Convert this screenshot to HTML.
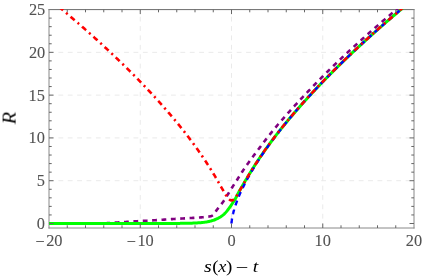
<!DOCTYPE html>
<html><head><title>R vs s(x)-t</title><meta charset="utf-8"><style>html,body{margin:0;padding:0;background:#fff}svg{display:block}</style></head><body><svg width="422" height="279" viewBox="0 0 422 279">
<rect width="422" height="279" fill="#fff"/>
<defs><clipPath id="c"><rect x="49.0" y="9.1" width="365.0" height="218.9"/></clipPath></defs>
<g stroke="#eaeaea" stroke-width="1" stroke-dasharray="4.85,4.535" fill="none"><line x1="140.25" y1="228.0" x2="140.25" y2="9.6"/><line x1="231.50" y1="228.0" x2="231.50" y2="9.6"/><line x1="322.75" y1="228.0" x2="322.75" y2="9.6"/><line x1="49.0" y1="180.71" x2="414.0" y2="180.71"/><line x1="49.0" y1="137.92" x2="414.0" y2="137.92"/><line x1="49.0" y1="95.13" x2="414.0" y2="95.13"/><line x1="49.0" y1="52.34" x2="414.0" y2="52.34"/></g>
<g stroke-width="1" fill="none" stroke-linecap="square"><line x1="49.0" y1="9.6" x2="414.0" y2="9.6" stroke="#6c6c6c"/><line x1="49.0" y1="228.0" x2="414.0" y2="228.0" stroke="#888"/><line x1="49.0" y1="9.6" x2="49.0" y2="228.0" stroke="#888"/><line x1="414.0" y1="9.6" x2="414.0" y2="228.0" stroke="#888"/></g>
<g clip-path="url(#c)" fill="none" stroke-width="3.1">
<path d="M95.90,223.67 L96.35,223.65 L96.79,223.64 L97.24,223.62 L97.69,223.60 L98.13,223.58 L98.58,223.57 L99.02,223.55 L99.47,223.53 L99.91,223.51 L100.36,223.49 L100.80,223.47 L101.25,223.45 L101.70,223.43 L102.14,223.41 L102.59,223.38 L103.03,223.36 L103.48,223.34 L103.92,223.32 L104.37,223.29 L104.82,223.27 L105.26,223.25 L105.71,223.23 L106.15,223.20 L106.60,223.18 L107.04,223.15 L107.49,223.13 L107.94,223.11 L108.38,223.08 L108.83,223.05 L109.27,223.03 L109.72,223.00 L110.16,222.97 L110.61,222.94 L111.06,222.91 L111.50,222.88 L111.95,222.85 L112.39,222.82 L112.84,222.79 L113.28,222.76 L113.73,222.73 L114.17,222.70 L114.62,222.67 L115.07,222.64 L115.51,222.61 L115.96,222.58 L116.40,222.55 L116.85,222.52 L117.29,222.50 L117.74,222.47 L118.19,222.44 L118.63,222.41 L119.08,222.38 L119.52,222.36 L119.97,222.33 L120.41,222.30 L120.86,222.28 L121.31,222.25 L121.75,222.22 L122.20,222.19 L122.64,222.17 L123.09,222.14 L123.53,222.11 L123.98,222.08 L124.43,222.05 L124.87,222.03 L125.32,222.00 L125.76,221.97 L126.21,221.94 L126.65,221.91 L127.10,221.88 L127.54,221.85 L127.99,221.82 L128.44,221.79 L128.88,221.75 L129.33,221.72 L129.77,221.69 L130.22,221.66 L130.66,221.62 L131.11,221.59 L131.56,221.56 L132.00,221.52 L132.45,221.49 L132.89,221.46 L133.34,221.43 L133.78,221.40 L134.23,221.37 L134.68,221.34 L135.12,221.31 L135.57,221.28 L136.01,221.26 L136.46,221.23 L136.90,221.21 L137.35,221.18 L137.80,221.16 L138.24,221.13 L138.69,221.11 L139.13,221.09 L139.58,221.07 L140.02,221.04 L140.47,221.02 L140.91,221.00 L141.36,220.98 L141.81,220.96 L142.25,220.94 L142.70,220.91 L143.14,220.89 L143.59,220.87 L144.03,220.85 L144.48,220.82 L144.93,220.80 L145.37,220.77 L145.82,220.75 L146.26,220.72 L146.71,220.70 L147.15,220.68 L147.60,220.65 L148.05,220.63 L148.49,220.60 L148.94,220.57 L149.38,220.55 L149.83,220.52 L150.27,220.50 L150.72,220.47 L151.17,220.45 L151.61,220.42 L152.06,220.39 L152.50,220.37 L152.95,220.34 L153.39,220.31 L153.84,220.29 L154.28,220.26 L154.73,220.23 L155.18,220.21 L155.62,220.18 L156.07,220.15 L156.51,220.12 L156.96,220.09 L157.40,220.06 L157.85,220.03 L158.30,220.00 L158.74,219.98 L159.19,219.95 L159.63,219.92 L160.08,219.89 L160.52,219.86 L160.97,219.83 L161.42,219.80 L161.86,219.77 L162.31,219.74 L162.75,219.71 L163.20,219.68 L163.64,219.65 L164.09,219.62 L164.54,219.60 L164.98,219.57 L165.43,219.54 L165.87,219.51 L166.32,219.48 L166.76,219.45 L167.21,219.43 L167.65,219.40 L168.10,219.37 L168.55,219.34 L168.99,219.31 L169.44,219.28 L169.88,219.26 L170.33,219.23 L170.77,219.20 L171.22,219.17 L171.67,219.14 L172.11,219.12 L172.56,219.09 L173.00,219.06 L173.45,219.03 L173.89,219.01 L174.34,218.98 L174.79,218.95 L175.23,218.92 L175.68,218.90 L176.12,218.87 L176.57,218.84 L177.01,218.82 L177.46,218.79 L177.91,218.76 L178.35,218.74 L178.80,218.71 L179.24,218.68 L179.69,218.66 L180.13,218.63 L180.58,218.60 L181.02,218.58 L181.47,218.55 L181.92,218.52 L182.36,218.50 L182.81,218.47 L183.25,218.44 L183.70,218.42 L184.14,218.39 L184.59,218.37 L185.04,218.34 L185.48,218.32 L185.93,218.29 L186.37,218.27 L186.82,218.24 L187.26,218.22 L187.71,218.19 L188.16,218.17 L188.60,218.14 L189.05,218.12 L189.49,218.09 L189.94,218.07 L190.38,218.04 L190.83,218.01 L191.28,217.99 L191.72,217.96 L192.17,217.94 L192.61,217.91 L193.06,217.88 L193.50,217.86 L193.95,217.83 L194.39,217.80 L194.84,217.78 L195.29,217.75 L195.73,217.72 L196.18,217.69 L196.62,217.66 L197.07,217.64 L197.51,217.61 L197.96,217.58 L198.41,217.55 L198.85,217.52 L199.30,217.49 L199.74,217.46 L200.19,217.43 L200.63,217.40 L201.08,217.36 L201.53,217.33 L201.97,217.29 L202.42,217.26 L202.86,217.22 L203.31,217.18 L203.75,217.14 L204.20,217.10 L204.65,217.06 L205.09,217.02 L205.54,216.97 L205.98,216.93 L206.43,216.88 L206.87,216.82 L207.32,216.77 L207.76,216.72 L208.21,216.66 L208.66,216.60 L209.10,216.53 L209.55,216.46 L209.99,216.37 L210.44,216.28 L210.88,216.16 L211.33,216.02 L211.78,215.80 L212.22,215.54 L212.67,215.22 L213.11,214.88 L213.56,214.49 L214.00,214.00 L214.45,213.43 L214.90,212.79 L215.34,212.12 L215.79,211.43 L216.23,210.75 L216.68,210.11 L217.12,209.51 L217.57,208.93 L218.02,208.36 L218.46,207.80 L218.91,207.25 L219.35,206.69 L219.80,206.14 L220.24,205.58 L220.69,205.02 L221.13,204.45 L221.58,203.88 L222.03,203.29 L222.47,202.69 L222.92,202.07 L223.36,201.43 L223.81,200.78 L224.25,200.11 L224.70,199.42 L225.15,198.72 L225.59,198.02 L226.04,197.30 L226.48,196.59 L226.93,195.87 L227.37,195.16 L227.82,194.45 L228.27,193.74 L228.71,193.03 L229.16,192.31 L229.60,191.59 L230.05,190.87 L230.49,190.15 L230.94,189.42 L231.39,188.70 L231.83,187.98 L232.28,187.27 L232.72,186.56 L233.17,185.86 L233.61,185.16 L234.06,184.47 L234.50,183.77 L234.95,183.08 L235.40,182.39 L235.84,181.71 L236.29,181.02 L236.73,180.34 L237.18,179.66 L237.62,178.99 L238.07,178.31 L238.50,177.59 L238.93,176.88 L239.36,176.19 L239.79,175.50 L240.22,174.83 L240.65,174.16 L241.08,173.51 L241.51,172.86 L241.94,172.21 L242.36,171.56 L242.79,170.92 L243.22,170.29 L243.65,169.65 L244.08,169.02 L244.51,168.39 L244.94,167.77 L245.37,167.15 L245.80,166.54 L246.23,165.92 L246.66,165.31 L247.09,164.71 L247.52,164.10 L247.95,163.50 L248.38,162.89 L248.81,162.29 L249.24,161.70 L249.67,161.10 L250.10,160.51 L250.53,159.91 L250.95,159.32 L251.38,158.74 L251.81,158.15 L252.24,157.57 L252.67,156.98 L253.10,156.40 L253.53,155.82 L253.96,155.25 L254.39,154.67 L254.82,154.10 L255.25,153.53 L255.68,152.97 L256.11,152.41 L256.54,151.84 L256.97,151.28 L257.40,150.72 L257.83,150.16 L258.26,149.59 L258.69,149.03 L259.12,148.46 L259.54,147.89 L259.97,147.31 L260.40,146.74 L260.83,146.16 L261.26,145.59 L261.69,145.01 L262.12,144.44 L262.55,143.87 L262.98,143.29 L263.41,142.72 L263.84,142.16 L264.27,141.59 L264.70,141.03 L265.13,140.47 L265.56,139.92 L265.99,139.36 L266.42,138.81 L266.85,138.26 L267.28,137.72 L267.70,137.17 L268.13,136.63 L268.56,136.09 L268.99,135.55 L269.42,135.01 L269.85,134.47 L270.28,133.93 L270.71,133.40 L271.14,132.86 L271.57,132.33 L272.00,131.80 L272.43,131.27 L272.86,130.74 L273.29,130.21 L273.72,129.68 L274.15,129.16 L274.58,128.63 L275.01,128.11 L275.44,127.59 L275.87,127.07 L276.29,126.55 L276.72,126.04 L277.15,125.53 L277.58,125.02 L278.01,124.51 L278.44,124.00 L278.87,123.50 L279.30,123.00 L279.73,122.50 L280.16,122.00 L280.59,121.50 L281.02,121.00 L281.45,120.51 L281.88,120.02 L282.31,119.52 L282.74,119.03 L283.17,118.54 L283.60,118.06 L284.03,117.57 L284.46,117.08 L284.88,116.60 L285.31,116.11 L285.74,115.63 L286.17,115.14 L286.60,114.66 L287.03,114.18 L287.46,113.70 L287.89,113.22 L288.32,112.74 L288.75,112.27 L289.18,111.79 L289.61,111.32 L290.04,110.84 L290.47,110.37 L290.90,109.90 L291.33,109.43 L291.76,108.96 L292.19,108.49 L292.62,108.02 L293.05,107.55 L293.47,107.08 L293.90,106.61 L294.33,106.14 L294.76,105.68 L295.19,105.21 L295.62,104.74 L296.05,104.28 L296.48,103.81 L296.91,103.34 L297.34,102.88 L297.77,102.42 L298.20,101.95 L298.63,101.49 L299.06,101.03 L299.49,100.56 L299.92,100.10 L300.35,99.64 L300.78,99.18 L301.21,98.72 L301.63,98.26 L302.06,97.81 L302.49,97.35 L302.92,96.89 L303.35,96.43 L303.78,95.98 L304.21,95.52 L304.64,95.07 L305.07,94.61 L305.50,94.16 L305.93,93.70 L306.36,93.25 L306.79,92.80 L307.22,92.35 L307.65,91.89 L308.08,91.44 L308.51,90.99 L308.94,90.54 L309.37,90.09 L309.80,89.65 L310.22,89.20 L310.65,88.75 L311.08,88.30 L311.51,87.86 L311.94,87.41 L312.37,86.97 L312.80,86.52 L313.23,86.08 L313.66,85.64 L314.09,85.20 L314.52,84.75 L314.95,84.31 L315.38,83.87 L315.81,83.43 L316.24,83.00 L316.67,82.56 L317.10,82.12 L317.53,81.68 L317.96,81.25 L318.39,80.81 L318.81,80.38 L319.24,79.94 L319.67,79.51 L320.10,79.07 L320.53,78.64 L320.96,78.21 L321.39,77.78 L321.82,77.34 L322.25,76.91 L322.68,76.48 L323.11,76.05 L323.54,75.62 L323.97,75.19 L324.40,74.76 L324.83,74.33 L325.26,73.91 L325.69,73.48 L326.12,73.05 L326.55,72.62 L326.97,72.20 L327.40,71.77 L327.83,71.35 L328.26,70.92 L328.69,70.50 L329.12,70.07 L329.55,69.65 L329.98,69.23 L330.41,68.81 L330.84,68.39 L331.27,67.97 L331.70,67.55 L332.13,67.13 L332.56,66.71 L332.99,66.30 L333.42,65.88 L333.85,65.46 L334.28,65.05 L334.71,64.63 L335.14,64.22 L335.56,63.81 L335.99,63.39 L336.42,62.98 L336.85,62.57 L337.28,62.16 L337.71,61.75 L338.14,61.34 L338.57,60.93 L339.00,60.52 L339.43,60.11 L339.86,59.70 L340.29,59.30 L340.72,58.89 L341.15,58.48 L341.58,58.08 L342.01,57.67 L342.44,57.27 L342.87,56.86 L343.30,56.46 L343.73,56.06 L344.15,55.65 L344.58,55.25 L345.01,54.85 L345.44,54.45 L345.87,54.05 L346.30,53.65 L346.73,53.25 L347.16,52.85 L347.59,52.45 L348.02,52.06 L348.45,51.66 L348.88,51.26 L349.31,50.87 L349.74,50.47 L350.17,50.08 L350.60,49.68 L351.03,49.29 L351.46,48.89 L351.89,48.50 L352.31,48.11 L352.74,47.72 L353.17,47.33 L353.60,46.94 L354.03,46.54 L354.46,46.16 L354.89,45.77 L355.32,45.38 L355.75,44.99 L356.18,44.60 L356.61,44.21 L357.04,43.82 L357.47,43.44 L357.90,43.05 L358.33,42.66 L358.76,42.27 L359.19,41.88 L359.62,41.50 L360.05,41.11 L360.48,40.72 L360.90,40.34 L361.33,39.95 L361.76,39.56 L362.19,39.18 L362.62,38.79 L363.05,38.40 L363.48,38.02 L363.91,37.63 L364.34,37.25 L364.77,36.87 L365.20,36.48 L365.63,36.10 L366.06,35.72 L366.49,35.33 L366.92,34.95 L367.35,34.57 L367.78,34.19 L368.21,33.81 L368.64,33.43 L369.07,33.05 L369.49,32.67 L369.92,32.29 L370.35,31.91 L370.78,31.53 L371.21,31.15 L371.64,30.78 L372.07,30.40 L372.50,30.02 L372.93,29.65 L373.36,29.27 L373.79,28.90 L374.22,28.52 L374.65,28.15 L375.08,27.77 L375.51,27.40 L375.94,27.03 L376.37,26.65 L376.80,26.28 L377.23,25.91 L377.66,25.54 L378.08,25.16 L378.51,24.79 L378.94,24.42 L379.37,24.05 L379.80,23.68 L380.23,23.31 L380.66,22.94 L381.09,22.57 L381.52,22.21 L381.95,21.84 L382.38,21.47 L382.81,21.10 L383.24,20.73 L383.67,20.37 L384.10,20.00 L384.53,19.64 L384.96,19.27 L385.39,18.90 L385.82,18.54 L386.24,18.17 L386.67,17.81 L387.10,17.45 L387.53,17.08 L387.96,16.72 L388.39,16.36 L388.82,15.99 L389.25,15.63 L389.68,15.27 L390.11,14.91 L390.54,14.55 L390.97,14.18 L391.40,13.82 L391.83,13.46 L392.26,13.10 L392.69,12.74 L393.12,12.38 L393.55,12.03 L393.98,11.67 L394.41,11.31 L394.83,10.95 L395.26,10.59 L395.69,10.23 L396.12,9.88 L396.55,9.52 L396.98,9.16 L397.41,8.81 L397.84,8.45 L398.27,8.10 L398.70,7.74 L399.13,7.39 L399.56,7.03 L399.99,6.68 L400.42,6.32 L400.85,5.97 L401.28,5.62 L401.71,5.26 L402.14,4.91 L402.57,4.56 L403.00,4.21 L403.42,3.85 L403.85,3.50 L404.28,3.15 L404.71,2.80 L405.14,2.45 L405.57,2.10 L406.00,1.75 L406.43,1.40 L406.86,1.05 L407.29,0.70 L407.72,0.35 L408.15,0.00 L408.58,-0.34 L409.01,-0.69 L409.44,-1.04" stroke="#800080" stroke-width="2.6" stroke-dasharray="4.8,4.58" stroke-dashoffset="-0.07"/>
<path d="M49.00,223.50 L49.63,223.50 L50.25,223.50 L50.88,223.50 L51.50,223.50 L52.13,223.50 L52.75,223.50 L53.38,223.50 L54.01,223.50 L54.63,223.50 L55.26,223.50 L55.88,223.50 L56.51,223.50 L57.13,223.50 L57.76,223.50 L58.38,223.50 L59.01,223.50 L59.64,223.50 L60.26,223.50 L60.89,223.50 L61.51,223.50 L62.14,223.50 L62.76,223.50 L63.39,223.50 L64.02,223.50 L64.64,223.50 L65.27,223.50 L65.89,223.50 L66.52,223.50 L67.14,223.50 L67.77,223.50 L68.39,223.50 L69.02,223.50 L69.65,223.50 L70.27,223.50 L70.90,223.50 L71.52,223.50 L72.15,223.50 L72.77,223.50 L73.40,223.50 L74.03,223.50 L74.65,223.50 L75.28,223.50 L75.90,223.50 L76.53,223.50 L77.15,223.50 L77.78,223.50 L78.40,223.50 L79.03,223.50 L79.66,223.50 L80.28,223.50 L80.91,223.50 L81.53,223.50 L82.16,223.50 L82.78,223.50 L83.41,223.50 L84.04,223.50 L84.66,223.50 L85.29,223.50 L85.91,223.50 L86.54,223.50 L87.16,223.50 L87.79,223.50 L88.41,223.50 L89.04,223.50 L89.67,223.50 L90.29,223.50 L90.92,223.50 L91.54,223.50 L92.17,223.50 L92.79,223.50 L93.42,223.50 L94.05,223.50 L94.67,223.50 L95.30,223.50 L95.92,223.50 L96.55,223.50 L97.17,223.50 L97.80,223.50 L98.42,223.50 L99.05,223.50 L99.68,223.50 L100.30,223.50 L100.93,223.50 L101.55,223.50 L102.18,223.50 L102.80,223.50 L103.43,223.50 L104.06,223.50 L104.68,223.50 L105.31,223.50 L105.93,223.50 L106.56,223.50 L107.18,223.50 L107.81,223.50 L108.43,223.50 L109.06,223.50 L109.69,223.50 L110.31,223.49 L110.94,223.49 L111.56,223.49 L112.19,223.49 L112.81,223.49 L113.44,223.49 L114.07,223.49 L114.69,223.49 L115.32,223.49 L115.94,223.49 L116.57,223.49 L117.19,223.49 L117.82,223.49 L118.44,223.49 L119.07,223.49 L119.70,223.49 L120.32,223.49 L120.95,223.49 L121.57,223.49 L122.20,223.49 L122.82,223.49 L123.45,223.49 L124.08,223.49 L124.70,223.49 L125.33,223.49 L125.95,223.49 L126.58,223.49 L127.20,223.49 L127.83,223.49 L128.45,223.49 L129.08,223.49 L129.71,223.49 L130.33,223.49 L130.96,223.49 L131.58,223.49 L132.21,223.49 L132.83,223.49 L133.46,223.49 L134.09,223.49 L134.71,223.49 L135.34,223.49 L135.96,223.49 L136.59,223.49 L137.21,223.49 L137.84,223.49 L138.46,223.49 L139.09,223.49 L139.72,223.49 L140.34,223.49 L140.97,223.49 L141.59,223.49 L142.22,223.49 L142.84,223.49 L143.47,223.49 L144.10,223.49 L144.72,223.49 L145.35,223.48 L145.97,223.48 L146.60,223.48 L147.22,223.48 L147.85,223.48 L148.47,223.48 L149.10,223.48 L149.73,223.48 L150.35,223.48 L150.98,223.48 L151.60,223.48 L152.23,223.48 L152.85,223.48 L153.48,223.48 L154.11,223.48 L154.73,223.48 L155.36,223.48 L155.98,223.48 L156.61,223.48 L157.23,223.48 L157.86,223.48 L158.48,223.48 L159.11,223.48 L159.74,223.48 L160.36,223.48 L160.99,223.48 L161.61,223.48 L162.24,223.48 L162.86,223.48 L163.49,223.48 L164.12,223.48 L164.74,223.48 L165.37,223.48 L165.99,223.48 L166.62,223.47 L167.24,223.47 L167.87,223.47 L168.49,223.47 L169.12,223.47 L169.75,223.47 L170.37,223.47 L171.00,223.46 L171.62,223.46 L172.25,223.46 L172.87,223.45 L173.50,223.45 L174.13,223.44 L174.75,223.44 L175.38,223.43 L176.00,223.42 L176.63,223.42 L177.25,223.41 L177.88,223.40 L178.50,223.39 L179.13,223.39 L179.76,223.38 L180.38,223.37 L181.01,223.36 L181.63,223.35 L182.26,223.34 L182.88,223.33 L183.51,223.32 L184.14,223.31 L184.76,223.30 L185.39,223.29 L186.01,223.28 L186.64,223.27 L187.26,223.26 L187.89,223.25 L188.51,223.23 L189.14,223.22 L189.77,223.20 L190.39,223.19 L191.02,223.17 L191.64,223.15 L192.27,223.13 L192.89,223.11 L193.52,223.09 L194.15,223.06 L194.77,223.04 L195.40,223.01 L196.02,222.98 L196.65,222.95 L197.27,222.91 L197.90,222.87 L198.52,222.83 L199.15,222.79 L199.78,222.74 L200.40,222.69 L201.03,222.64 L201.65,222.58 L202.28,222.52 L202.90,222.45 L203.53,222.38 L204.16,222.30 L204.78,222.22 L205.41,222.13 L206.03,222.04 L206.66,221.94 L207.28,221.84 L207.91,221.72 L208.53,221.59 L209.16,221.45 L209.79,221.30 L210.41,221.14 L211.04,220.98 L211.66,220.80 L212.29,220.62 L212.91,220.42 L213.54,220.22 L214.17,220.00 L214.79,219.76 L215.42,219.51 L216.04,219.25 L216.67,218.96 L217.29,218.67 L217.92,218.36 L218.54,218.03 L219.17,217.69 L219.80,217.32 L220.42,216.93 L221.05,216.51 L221.67,216.07 L222.30,215.60 L222.92,215.11 L223.55,214.59 L224.18,214.04 L224.80,213.47 L225.43,212.84 L226.05,212.14 L226.68,211.39 L227.30,210.60 L227.93,209.78 L228.55,208.94 L229.18,208.09 L229.81,207.24 L230.43,206.35 L231.06,205.43 L231.68,204.48 L232.31,203.52 L232.93,202.56 L233.56,201.59 L234.19,200.61 L234.81,199.61 L235.44,198.59 L236.06,197.57 L236.50,196.66 L236.93,195.75 L237.37,194.88 L237.80,194.02 L238.24,193.18 L238.67,192.36 L239.10,191.56 L239.54,190.76 L239.97,189.98 L240.41,189.20 L240.84,188.44 L241.28,187.68 L241.71,186.94 L242.15,186.21 L242.58,185.48 L243.01,184.76 L243.45,184.03 L243.88,183.31 L244.32,182.58 L244.75,181.84 L245.19,181.10 L245.62,180.36 L246.06,179.63 L246.49,178.90 L246.93,178.18 L247.36,177.45 L247.79,176.72 L248.23,176.00 L248.66,175.27 L249.10,174.54 L249.53,173.82 L249.97,173.10 L250.40,172.39 L250.84,171.67 L251.27,170.97 L251.71,170.26 L252.14,169.56 L252.57,168.86 L253.01,168.17 L253.44,167.48 L253.88,166.79 L254.31,166.10 L254.75,165.42 L255.18,164.74 L255.62,164.07 L256.05,163.40 L256.49,162.73 L256.92,162.06 L257.35,161.40 L257.79,160.74 L258.22,160.09 L258.66,159.43 L259.09,158.78 L259.53,158.14 L259.96,157.49 L260.40,156.85 L260.83,156.21 L261.26,155.57 L261.70,154.94 L262.13,154.31 L262.57,153.68 L263.00,153.05 L263.44,152.43 L263.87,151.81 L264.31,151.19 L264.74,150.57 L265.18,149.95 L265.61,149.34 L266.04,148.73 L266.48,148.12 L266.91,147.52 L267.35,146.91 L267.78,146.31 L268.22,145.71 L268.65,145.12 L269.09,144.52 L269.52,143.93 L269.96,143.34 L270.39,142.75 L270.82,142.17 L271.26,141.58 L271.69,141.00 L272.13,140.42 L272.56,139.84 L273.00,139.26 L273.43,138.69 L273.87,138.12 L274.30,137.55 L274.74,136.98 L275.17,136.41 L275.60,135.84 L276.04,135.28 L276.47,134.71 L276.91,134.15 L277.34,133.59 L277.78,133.04 L278.21,132.48 L278.65,131.93 L279.08,131.37 L279.51,130.82 L279.95,130.27 L280.38,129.73 L280.82,129.18 L281.25,128.64 L281.69,128.09 L282.12,127.55 L282.56,127.01 L282.99,126.47 L283.43,125.94 L283.86,125.40 L284.29,124.87 L284.73,124.33 L285.16,123.80 L285.60,123.27 L286.03,122.74 L286.47,122.22 L286.90,121.69 L287.34,121.17 L287.77,120.64 L288.21,120.12 L288.64,119.60 L289.07,119.08 L289.51,118.56 L289.94,118.05 L290.38,117.53 L290.81,117.02 L291.25,116.50 L291.68,115.99 L292.12,115.48 L292.55,114.97 L292.99,114.46 L293.42,113.95 L293.85,113.45 L294.29,112.94 L294.72,112.44 L295.16,111.93 L295.59,111.43 L296.03,110.93 L296.46,110.43 L296.90,109.93 L297.33,109.43 L297.76,108.94 L298.20,108.44 L298.63,107.94 L299.07,107.45 L299.50,106.96 L299.94,106.46 L300.37,105.97 L300.81,105.48 L301.24,104.99 L301.68,104.50 L302.11,104.02 L302.54,103.53 L302.98,103.04 L303.41,102.56 L303.85,102.07 L304.28,101.59 L304.72,101.11 L305.15,100.62 L305.59,100.14 L306.02,99.66 L306.46,99.18 L306.89,98.71 L307.32,98.23 L307.76,97.75 L308.19,97.28 L308.63,96.80 L309.06,96.33 L309.50,95.85 L309.93,95.38 L310.37,94.91 L310.80,94.44 L311.24,93.97 L311.67,93.50 L312.10,93.03 L312.54,92.57 L312.97,92.10 L313.41,91.64 L313.84,91.17 L314.28,90.71 L314.71,90.24 L315.15,89.78 L315.58,89.32 L316.01,88.86 L316.45,88.40 L316.88,87.94 L317.32,87.48 L317.75,87.03 L318.19,86.57 L318.62,86.11 L319.06,85.66 L319.49,85.20 L319.93,84.75 L320.36,84.30 L320.79,83.84 L321.23,83.39 L321.66,82.94 L322.10,82.49 L322.53,82.04 L322.97,81.59 L323.40,81.15 L323.84,80.70 L324.27,80.25 L324.71,79.81 L325.14,79.36 L325.57,78.92 L326.01,78.47 L326.44,78.03 L326.88,77.59 L327.31,77.14 L327.75,76.70 L328.18,76.26 L328.62,75.82 L329.05,75.38 L329.49,74.94 L329.92,74.51 L330.35,74.07 L330.79,73.63 L331.22,73.20 L331.66,72.76 L332.09,72.33 L332.53,71.89 L332.96,71.46 L333.40,71.03 L333.83,70.59 L334.26,70.16 L334.70,69.73 L335.13,69.30 L335.57,68.87 L336.00,68.44 L336.44,68.01 L336.87,67.58 L337.31,67.16 L337.74,66.73 L338.18,66.30 L338.61,65.88 L339.04,65.45 L339.48,65.03 L339.91,64.60 L340.35,64.18 L340.78,63.75 L341.22,63.33 L341.65,62.91 L342.09,62.49 L342.52,62.07 L342.96,61.65 L343.39,61.23 L343.82,60.81 L344.26,60.39 L344.69,59.97 L345.13,59.55 L345.56,59.14 L346.00,58.72 L346.43,58.30 L346.87,57.89 L347.30,57.47 L347.74,57.06 L348.17,56.64 L348.60,56.23 L349.04,55.82 L349.47,55.41 L349.91,54.99 L350.34,54.58 L350.78,54.17 L351.21,53.76 L351.65,53.35 L352.08,52.94 L352.51,52.53 L352.95,52.12 L353.38,51.72 L353.82,51.31 L354.25,50.90 L354.69,50.49 L355.12,50.09 L355.56,49.68 L355.99,49.28 L356.43,48.87 L356.86,48.47 L357.29,48.06 L357.73,47.66 L358.16,47.26 L358.60,46.86 L359.03,46.45 L359.47,46.05 L359.90,45.65 L360.34,45.25 L360.77,44.85 L361.21,44.45 L361.64,44.05 L362.07,43.65 L362.51,43.25 L362.94,42.86 L363.38,42.46 L363.81,42.06 L364.25,41.66 L364.68,41.27 L365.12,40.87 L365.55,40.48 L365.99,40.08 L366.42,39.69 L366.85,39.29 L367.29,38.90 L367.72,38.51 L368.16,38.11 L368.59,37.72 L369.03,37.33 L369.46,36.94 L369.90,36.55 L370.33,36.15 L370.76,35.76 L371.20,35.37 L371.63,34.98 L372.07,34.59 L372.50,34.21 L372.94,33.82 L373.37,33.43 L373.81,33.04 L374.24,32.65 L374.68,32.27 L375.11,31.88 L375.54,31.50 L375.98,31.11 L376.41,30.72 L376.85,30.34 L377.28,29.95 L377.72,29.57 L378.15,29.19 L378.59,28.80 L379.02,28.42 L379.46,28.04 L379.89,27.66 L380.32,27.27 L380.76,26.89 L381.19,26.51 L381.63,26.13 L382.06,25.75 L382.50,25.37 L382.93,24.99 L383.37,24.61 L383.80,24.23 L384.24,23.85 L384.67,23.47 L385.10,23.10 L385.54,22.72 L385.97,22.34 L386.41,21.96 L386.84,21.59 L387.28,21.21 L387.71,20.84 L388.15,20.46 L388.58,20.09 L389.01,19.71 L389.45,19.34 L389.88,18.96 L390.32,18.59 L390.75,18.21 L391.19,17.84 L391.62,17.47 L392.06,17.10 L392.49,16.72 L392.93,16.35 L393.36,15.98 L393.79,15.61 L394.23,15.24 L394.66,14.87 L395.10,14.50 L395.53,14.13 L395.97,13.76 L396.40,13.39 L396.84,13.02 L397.27,12.65 L397.71,12.28 L398.14,11.92 L398.57,11.55 L399.01,11.18 L399.44,10.82 L399.88,10.45 L400.31,10.08 L400.75,9.72 L401.18,9.35 L401.62,8.99 L402.05,8.62 L402.49,8.26 L402.92,7.89 L403.35,7.53 L403.79,7.16 L404.22,6.80 L404.66,6.44 L405.09,6.07 L405.53,5.71 L405.96,5.35 L406.40,4.99 L406.83,4.63 L407.26,4.26 L407.70,3.90 L408.13,3.54 L408.57,3.18 L409.00,2.82 L409.44,2.46" stroke="#00ff00" stroke-width="3.0"/>
<path d="M231.50,223.50 L231.50,223.48 L231.50,223.44 L231.50,223.40 L231.50,223.35 L231.50,223.30 L231.51,223.24 L231.51,223.18 L231.51,223.12 L231.52,223.06 L231.52,222.99 L231.52,222.92 L231.53,222.85 L231.53,222.77 L231.54,222.69 L231.54,222.62 L231.55,222.54 L231.56,222.45 L231.56,222.37 L231.57,222.28 L231.58,222.20 L231.59,222.11 L231.59,222.02 L231.60,221.93 L231.61,221.83 L231.62,221.74 L231.63,221.64 L231.64,221.54 L231.65,221.45 L231.66,221.35 L231.67,221.25 L231.69,221.14 L231.70,221.04 L231.71,220.93 L231.72,220.83 L231.74,220.72 L231.75,220.61 L231.76,220.51 L231.78,220.40 L231.79,220.28 L231.81,220.17 L231.82,220.06 L231.84,219.95 L231.86,219.83 L231.87,219.71 L231.89,219.60 L231.91,219.48 L231.93,219.36 L231.95,219.24 L231.96,219.12 L231.98,219.00 L232.00,218.88 L232.02,218.76 L232.04,218.63 L232.06,218.51 L232.08,218.38 L232.11,218.26 L232.13,218.13 L232.15,218.00 L232.17,217.88 L232.20,217.75 L232.22,217.62 L232.24,217.49 L232.27,217.36 L232.29,217.23 L232.32,217.09 L232.34,216.96 L232.37,216.83 L232.39,216.69 L232.42,216.56 L232.45,216.42 L232.47,216.29 L232.50,216.15 L232.53,216.01 L232.56,215.88 L232.59,215.74 L232.62,215.60 L232.65,215.46 L232.68,215.32 L232.71,215.18 L232.74,215.04 L232.77,214.90 L232.80,214.76 L232.83,214.62 L232.86,214.47 L232.90,214.33 L232.93,214.19 L232.96,214.04 L233.00,213.90 L233.03,213.75 L233.07,213.61 L233.10,213.46 L233.14,213.31 L233.17,213.17 L233.21,213.02 L233.24,212.87 L233.28,212.72 L233.32,212.58 L233.36,212.43 L233.39,212.28 L233.43,212.13 L233.47,211.98 L233.51,211.83 L233.55,211.68 L233.59,211.52 L233.63,211.37 L233.67,211.22 L233.71,211.07 L233.75,210.92 L233.80,210.76 L233.84,210.61 L233.88,210.45 L233.92,210.30 L233.97,210.15 L234.01,209.99 L234.06,209.84 L234.10,209.68 L234.15,209.52 L234.19,209.37 L234.24,209.21 L234.68,207.76 L235.12,206.37 L235.55,205.05 L235.99,203.78 L236.43,202.56 L236.87,201.37 L237.31,200.22 L237.75,199.10 L238.19,198.00 L238.63,196.93 L239.07,195.88 L239.51,194.86 L239.95,193.85 L240.38,192.86 L240.82,191.89 L241.26,190.93 L241.70,189.99 L242.14,189.06 L242.58,188.14 L243.02,187.24 L243.46,186.35 L243.90,185.47 L244.34,184.59 L244.78,183.73 L245.21,182.88 L245.65,182.04 L246.09,181.20 L246.53,180.38 L246.97,179.56 L247.41,178.75 L247.85,177.95 L248.29,177.15 L248.73,176.36 L249.17,175.58 L249.61,174.80 L250.05,174.03 L250.48,173.27 L250.92,172.51 L251.36,171.76 L251.80,171.01 L252.24,170.27 L252.68,169.54 L253.12,168.81 L253.56,168.08 L254.00,167.36 L254.44,166.64 L254.88,165.93 L255.31,165.22 L255.75,164.52 L256.19,163.82 L256.63,163.12 L257.07,162.43 L257.51,161.75 L257.95,161.06 L258.39,160.38 L258.83,159.71 L259.27,159.04 L259.71,158.37 L260.14,157.70 L260.58,157.04 L261.02,156.38 L261.46,155.72 L261.90,155.07 L262.34,154.42 L262.78,153.78 L263.22,153.13 L263.66,152.49 L264.10,151.86 L264.54,151.22 L264.97,150.59 L265.41,149.96 L265.85,149.33 L266.29,148.71 L266.73,148.09 L267.17,147.47 L267.61,146.85 L268.05,146.24 L268.49,145.63 L268.93,145.02 L269.37,144.41 L269.80,143.81 L270.24,143.21 L270.68,142.61 L271.12,142.01 L271.56,141.41 L272.00,140.82 L272.44,140.23 L272.88,139.64 L273.32,139.05 L273.76,138.47 L274.20,137.89 L274.63,137.30 L275.07,136.73 L275.51,136.15 L275.95,135.57 L276.39,135.00 L276.83,134.43 L277.27,133.86 L277.71,133.29 L278.15,132.72 L278.59,132.16 L279.03,131.60 L279.46,131.04 L279.90,130.48 L280.34,129.92 L280.78,129.36 L281.22,128.81 L281.66,128.26 L282.10,127.70 L282.54,127.16 L282.98,126.61 L283.42,126.06 L283.86,125.52 L284.29,124.97 L284.73,124.43 L285.17,123.89 L285.61,123.35 L286.05,122.81 L286.49,122.28 L286.93,121.74 L287.37,121.21 L287.81,120.68 L288.25,120.15 L288.69,119.62 L289.12,119.09 L289.56,118.56 L290.00,118.04 L290.44,117.51 L290.88,116.99 L291.32,116.47 L291.76,115.95 L292.20,115.43 L292.64,114.91 L293.08,114.39 L293.52,113.88 L293.95,113.36 L294.39,112.85 L294.83,112.34 L295.27,111.83 L295.71,111.32 L296.15,110.81 L296.59,110.30 L297.03,109.80 L297.47,109.29 L297.91,108.79 L298.35,108.28 L298.78,107.78 L299.22,107.28 L299.66,106.78 L300.10,106.28 L300.54,105.79 L300.98,105.29 L301.42,104.79 L301.86,104.30 L302.30,103.81 L302.74,103.31 L303.18,102.82 L303.61,102.33 L304.05,101.84 L304.49,101.35 L304.93,100.87 L305.37,100.38 L305.81,99.90 L306.25,99.41 L306.69,98.93 L307.13,98.44 L307.57,97.96 L308.01,97.48 L308.45,97.00 L308.88,96.52 L309.32,96.04 L309.76,95.57 L310.20,95.09 L310.64,94.61 L311.08,94.14 L311.52,93.67 L311.96,93.19 L312.40,92.72 L312.84,92.25 L313.28,91.78 L313.71,91.31 L314.15,90.84 L314.59,90.37 L315.03,89.90 L315.47,89.44 L315.91,88.97 L316.35,88.51 L316.79,88.04 L317.23,87.58 L317.67,87.12 L318.11,86.66 L318.54,86.20 L318.98,85.73 L319.42,85.28 L319.86,84.82 L320.30,84.36 L320.74,83.90 L321.18,83.45 L321.62,82.99 L322.06,82.53 L322.50,82.08 L322.94,81.63 L323.37,81.17 L323.81,80.72 L324.25,80.27 L324.69,79.82 L325.13,79.37 L325.57,78.92 L326.01,78.47 L326.45,78.02 L326.89,77.58 L327.33,77.13 L327.77,76.68 L328.20,76.24 L328.64,75.80 L329.08,75.35 L329.52,74.91 L329.96,74.47 L330.40,74.02 L330.84,73.58 L331.28,73.14 L331.72,72.70 L332.16,72.26 L332.60,71.82 L333.03,71.39 L333.47,70.95 L333.91,70.51 L334.35,70.08 L334.79,69.64 L335.23,69.20 L335.67,68.77 L336.11,68.34 L336.55,67.90 L336.99,67.47 L337.43,67.04 L337.86,66.61 L338.30,66.18 L338.74,65.75 L339.18,65.32 L339.62,64.89 L340.06,64.46 L340.50,64.03 L340.94,63.60 L341.38,63.18 L341.82,62.75 L342.26,62.32 L342.69,61.90 L343.13,61.48 L343.57,61.05 L344.01,60.63 L344.45,60.20 L344.89,59.78 L345.33,59.36 L345.77,58.94 L346.21,58.52 L346.65,58.10 L347.09,57.68 L347.52,57.26 L347.96,56.84 L348.40,56.42 L348.84,56.01 L349.28,55.59 L349.72,55.17 L350.16,54.76 L350.60,54.34 L351.04,53.92 L351.48,53.51 L351.92,53.10 L352.35,52.68 L352.79,52.27 L353.23,51.86 L353.67,51.45 L354.11,51.03 L354.55,50.62 L354.99,50.21 L355.43,49.80 L355.87,49.39 L356.31,48.98 L356.75,48.57 L357.18,48.17 L357.62,47.76 L358.06,47.35 L358.50,46.94 L358.94,46.54 L359.38,46.13 L359.82,45.73 L360.26,45.32 L360.70,44.92 L361.14,44.51 L361.58,44.11 L362.01,43.71 L362.45,43.30 L362.89,42.90 L363.33,42.50 L363.77,42.10 L364.21,41.70 L364.65,41.30 L365.09,40.90 L365.53,40.50 L365.97,40.10 L366.41,39.70 L366.85,39.30 L367.28,38.90 L367.72,38.51 L368.16,38.11 L368.60,37.71 L369.04,37.32 L369.48,36.92 L369.92,36.52 L370.36,36.13 L370.80,35.74 L371.24,35.34 L371.68,34.95 L372.11,34.55 L372.55,34.16 L372.99,33.77 L373.43,33.38 L373.87,32.98 L374.31,32.59 L374.75,32.20 L375.19,31.81 L375.63,31.42 L376.07,31.03 L376.51,30.64 L376.94,30.25 L377.38,29.87 L377.82,29.48 L378.26,29.09 L378.70,28.70 L379.14,28.32 L379.58,27.93 L380.02,27.54 L380.46,27.16 L380.90,26.77 L381.34,26.39 L381.77,26.00 L382.21,25.62 L382.65,25.23 L383.09,24.85 L383.53,24.47 L383.97,24.08 L384.41,23.70 L384.85,23.32 L385.29,22.94 L385.73,22.56 L386.17,22.17 L386.60,21.79 L387.04,21.41 L387.48,21.03 L387.92,20.65 L388.36,20.27 L388.80,19.90 L389.24,19.52 L389.68,19.14 L390.12,18.76 L390.56,18.38 L391.00,18.01 L391.43,17.63 L391.87,17.25 L392.31,16.88 L392.75,16.50 L393.19,16.13 L393.63,15.75 L394.07,15.38 L394.51,15.00 L394.95,14.63 L395.39,14.25 L395.83,13.88 L396.26,13.51 L396.70,13.13 L397.14,12.76 L397.58,12.39 L398.02,12.02 L398.46,11.65 L398.90,11.27 L399.34,10.90 L399.78,10.53 L400.22,10.16 L400.66,9.79 L401.09,9.42 L401.53,9.05 L401.97,8.69 L402.41,8.32 L402.85,7.95 L403.29,7.58 L403.73,7.21 L404.17,6.85 L404.61,6.48 L405.05,6.11 L405.49,5.75 L405.92,5.38 L406.36,5.01 L406.80,4.65 L407.24,4.28 L407.68,3.92 L408.12,3.55 L408.56,3.19 L409.00,2.83 L409.44,2.46" stroke="#0000ff" stroke-width="2.4" stroke-dasharray="5.0,4.335"/>
<path d="M52.65,1.63 L52.95,1.88 L53.25,2.12 L53.54,2.37 L53.84,2.62 L54.14,2.86 L54.44,3.11 L54.74,3.36 L55.04,3.61 L55.33,3.85 L55.63,4.10 L55.93,4.35 L56.23,4.60 L56.53,4.85 L56.83,5.09 L57.12,5.34 L57.42,5.59 L57.72,5.84 L58.02,6.09 L58.32,6.34 L58.62,6.59 L58.91,6.84 L59.21,7.09 L59.51,7.33 L59.81,7.58 L60.11,7.83 L60.41,8.08 L60.70,8.33 L61.00,8.58 L61.30,8.84 L61.60,9.09 L61.90,9.34 L62.20,9.59 L62.49,9.84 L62.79,10.09 L63.09,10.34 L63.39,10.59 L63.69,10.84 L63.99,11.10 L64.28,11.35 L64.58,11.60 L64.88,11.85 L65.18,12.10 L65.48,12.36 L65.78,12.61 L66.07,12.86 L66.37,13.12 L66.67,13.37 L66.97,13.62 L67.27,13.88 L67.57,14.13 L67.86,14.38 L68.16,14.64 L68.46,14.89 L68.76,15.15 L69.06,15.40 L69.36,15.65 L69.65,15.91 L69.95,16.16 L70.25,16.42 L70.55,16.67 L70.85,16.93 L71.15,17.18 L71.44,17.44 L71.74,17.70 L72.04,17.95 L72.34,18.21 L72.64,18.46 L72.94,18.72 L73.23,18.98 L73.53,19.23 L73.83,19.49 L74.13,19.75 L74.43,20.00 L74.73,20.26 L75.02,20.52 L75.32,20.78 L75.62,21.04 L75.92,21.29 L76.22,21.55 L76.52,21.81 L76.81,22.07 L77.11,22.33 L77.41,22.59 L77.71,22.85 L78.01,23.10 L78.31,23.36 L78.60,23.62 L78.90,23.88 L79.20,24.14 L79.50,24.40 L79.80,24.66 L80.10,24.92 L80.39,25.18 L80.69,25.44 L80.99,25.71 L81.29,25.97 L81.59,26.23 L81.89,26.49 L82.18,26.75 L82.48,27.01 L82.78,27.27 L83.08,27.54 L83.38,27.80 L83.68,28.06 L83.97,28.32 L84.27,28.59 L84.57,28.85 L84.87,29.11 L85.17,29.38 L85.47,29.64 L85.76,29.90 L86.06,30.17 L86.36,30.43 L86.66,30.69 L86.96,30.96 L87.26,31.22 L87.55,31.49 L87.85,31.75 L88.15,32.02 L88.45,32.28 L88.75,32.55 L89.05,32.82 L89.34,33.08 L89.64,33.35 L89.94,33.61 L90.24,33.88 L90.54,34.15 L90.84,34.41 L91.13,34.68 L91.43,34.95 L91.73,35.21 L92.03,35.48 L92.33,35.75 L92.63,36.02 L92.92,36.29 L93.22,36.55 L93.52,36.82 L93.82,37.09 L94.12,37.36 L94.42,37.63 L94.71,37.90 L95.01,38.17 L95.31,38.44 L95.61,38.71 L95.91,38.98 L96.21,39.25 L96.50,39.52 L96.80,39.79 L97.10,40.06 L97.40,40.33 L97.70,40.60 L98.00,40.87 L98.29,41.14 L98.59,41.42 L98.89,41.69 L99.19,41.96 L99.49,42.23 L99.79,42.51 L100.08,42.78 L100.38,43.05 L100.68,43.32 L100.98,43.60 L101.28,43.87 L101.58,44.15 L101.87,44.42 L102.17,44.69 L102.47,44.97 L102.77,45.24 L103.07,45.52 L103.37,45.79 L103.66,46.07 L103.96,46.34 L104.26,46.62 L104.56,46.90 L104.86,47.17 L105.16,47.45 L105.45,47.73 L105.75,48.00 L106.05,48.28 L106.35,48.56 L106.65,48.83 L106.95,49.11 L107.24,49.39 L107.54,49.67 L107.84,49.95 L108.14,50.22 L108.44,50.50 L108.74,50.78 L109.03,51.06 L109.33,51.34 L109.63,51.62 L109.93,51.90 L110.23,52.18 L110.53,52.46 L110.82,52.74 L111.12,53.02 L111.42,53.30 L111.72,53.59 L112.02,53.87 L112.32,54.15 L112.61,54.43 L112.91,54.71 L113.21,55.00 L113.51,55.28 L113.81,55.56 L114.11,55.84 L114.40,56.13 L114.70,56.41 L115.00,56.70 L115.30,56.98 L115.60,57.26 L115.90,57.55 L116.19,57.83 L116.49,58.12 L116.79,58.40 L117.09,58.69 L117.39,58.98 L117.69,59.26 L117.98,59.55 L118.28,59.83 L118.58,60.12 L118.88,60.41 L119.18,60.70 L119.48,60.98 L119.77,61.27 L120.07,61.56 L120.37,61.85 L120.67,62.14 L120.97,62.42 L121.27,62.71 L121.56,63.00 L121.86,63.29 L122.16,63.58 L122.46,63.87 L122.76,64.16 L123.06,64.45 L123.35,64.74 L123.65,65.04 L123.95,65.33 L124.25,65.62 L124.55,65.91 L124.85,66.20 L125.14,66.50 L125.44,66.79 L125.74,67.08 L126.04,67.38 L126.34,67.67 L126.64,67.96 L126.93,68.26 L127.23,68.55 L127.53,68.85 L127.83,69.14 L128.13,69.44 L128.43,69.73 L128.72,70.03 L129.02,70.32 L129.32,70.62 L129.62,70.92 L129.92,71.21 L130.22,71.51 L130.51,71.81 L130.81,72.11 L131.11,72.40 L131.41,72.70 L131.71,73.00 L132.01,73.30 L132.30,73.60 L132.60,73.90 L132.90,74.20 L133.20,74.50 L133.50,74.80 L133.80,75.10 L134.09,75.40 L134.39,75.70 L134.69,76.01 L134.99,76.31 L135.29,76.61 L135.59,76.91 L135.88,77.22 L136.18,77.52 L136.48,77.82 L136.78,78.13 L137.08,78.43 L137.38,78.73 L137.67,79.04 L137.97,79.34 L138.27,79.65 L138.57,79.96 L138.87,80.26 L139.17,80.57 L139.46,80.87 L139.76,81.18 L140.06,81.49 L140.36,81.80 L140.66,82.11 L140.96,82.41 L141.25,82.72 L141.55,83.03 L141.85,83.34 L142.15,83.65 L142.45,83.96 L142.75,84.27 L143.04,84.58 L143.34,84.89 L143.64,85.20 L143.94,85.52 L144.24,85.83 L144.54,86.14 L144.83,86.45 L145.13,86.77 L145.43,87.08 L145.73,87.39 L146.03,87.71 L146.33,88.02 L146.62,88.34 L146.92,88.65 L147.22,88.97 L147.52,89.28 L147.82,89.60 L148.12,89.92 L148.41,90.24 L148.71,90.55 L149.01,90.87 L149.31,91.19 L149.61,91.51 L149.91,91.83 L150.20,92.15 L150.50,92.47 L150.80,92.79 L151.10,93.11 L151.40,93.43 L151.70,93.75 L151.99,94.07 L152.29,94.39 L152.59,94.72 L152.89,95.04 L153.19,95.36 L153.49,95.69 L153.78,96.01 L154.08,96.33 L154.38,96.66 L154.68,96.98 L154.98,97.31 L155.28,97.64 L155.57,97.96 L155.87,98.29 L156.17,98.62 L156.47,98.94 L156.77,99.27 L157.07,99.60 L157.36,99.93 L157.66,100.26 L157.96,100.59 L158.26,100.92 L158.56,101.25 L158.86,101.58 L159.15,101.91 L159.45,102.25 L159.75,102.58 L160.05,102.91 L160.35,103.25 L160.65,103.58 L160.94,103.91 L161.24,104.25 L161.54,104.59 L161.84,104.92 L162.14,105.26 L162.44,105.59 L162.73,105.93 L163.03,106.27 L163.33,106.61 L163.63,106.95 L163.93,107.28 L164.23,107.62 L164.52,107.96 L164.82,108.31 L165.12,108.65 L165.42,108.99 L165.72,109.33 L166.02,109.67 L166.31,110.02 L166.61,110.36 L166.91,110.70 L167.21,111.05 L167.51,111.39 L167.81,111.74 L168.10,112.08 L168.40,112.43 L168.70,112.78 L169.00,113.13 L169.30,113.47 L169.60,113.82 L169.89,114.17 L170.19,114.52 L170.49,114.87 L170.79,115.22 L171.09,115.58 L171.39,115.93 L171.68,116.28 L171.98,116.63 L172.28,116.99 L172.58,117.34 L172.88,117.70 L173.18,118.05 L173.47,118.41 L173.77,118.77 L174.07,119.12 L174.37,119.48 L174.67,119.84 L174.97,120.20 L175.26,120.56 L175.56,120.92 L175.86,121.28 L176.16,121.64 L176.46,122.00 L176.76,122.36 L177.05,122.73 L177.35,123.09 L177.65,123.46 L177.95,123.82 L178.25,124.19 L178.55,124.55 L178.84,124.92 L179.14,125.29 L179.44,125.66 L179.74,126.03 L180.04,126.40 L180.34,126.77 L180.63,127.14 L180.93,127.51 L181.23,127.88 L181.53,128.26 L181.83,128.63 L182.13,129.01 L182.42,129.38 L182.72,129.76 L183.02,130.13 L183.32,130.51 L183.62,130.89 L183.92,131.27 L184.21,131.65 L184.51,132.03 L184.81,132.41 L185.11,132.79 L185.41,133.18 L185.71,133.56 L186.00,133.94 L186.30,134.33 L186.60,134.72 L186.90,135.10 L187.20,135.49 L187.50,135.88 L187.79,136.27 L188.09,136.66 L188.39,137.05 L188.69,137.44 L188.99,137.83 L189.29,138.23 L189.58,138.62 L189.88,139.01 L190.18,139.41 L190.48,139.81 L190.78,140.20 L191.08,140.60 L191.37,141.00 L191.67,141.40 L191.97,141.80 L192.27,142.21 L192.57,142.61 L192.87,143.01 L193.16,143.42 L193.46,143.83 L193.76,144.23 L194.06,144.64 L194.36,145.05 L194.66,145.46 L194.95,145.87 L195.25,146.28 L195.55,146.69 L195.85,147.11 L196.15,147.52 L196.45,147.94 L196.74,148.36 L197.04,148.77 L197.34,149.19 L197.64,149.61 L197.94,150.03 L198.24,150.46 L198.53,150.88 L198.83,151.31 L199.13,151.73 L199.43,152.16 L199.73,152.59 L200.03,153.01 L200.32,153.45 L200.62,153.88 L200.92,154.31 L201.22,154.74 L201.52,155.18 L201.82,155.61 L202.11,156.05 L202.41,156.49 L202.71,156.93 L203.01,157.37 L203.31,157.81 L203.61,158.26 L203.90,158.70 L204.20,159.15 L204.50,159.60 L204.80,160.05 L205.10,160.50 L205.40,160.95 L205.69,161.40 L205.99,161.86 L206.29,162.31 L206.59,162.77 L206.89,163.23 L207.19,163.69 L207.48,164.15 L207.78,164.62 L208.08,165.08 L208.38,165.55 L208.68,166.01 L208.98,166.48 L209.27,166.95 L209.57,167.43 L209.87,167.90 L210.17,168.38 L210.47,168.85 L210.77,169.33 L211.06,169.81 L211.36,170.29 L211.66,170.78 L211.96,171.26 L212.26,171.75 L212.56,172.24 L212.85,172.73 L213.15,173.22 L213.45,173.71 L213.75,174.20 L214.05,174.70 L214.35,175.20 L214.64,175.70 L214.94,176.20 L215.24,176.70 L215.54,177.21 L215.84,177.71 L216.14,178.22 L216.43,178.73 L216.73,179.24 L217.03,179.75 L217.33,180.27 L217.63,180.78 L217.93,181.30 L218.22,181.81 L218.52,182.33 L218.82,182.85 L219.12,183.37 L219.42,183.90 L219.72,184.42 L220.01,184.94 L220.31,185.47 L220.61,185.99 L220.91,186.52 L221.21,187.04 L221.51,187.57 L221.80,188.09 L222.10,188.62 L222.40,189.14 L222.70,189.66 L223.00,190.18 L223.30,190.70 L223.59,191.22 L223.89,191.73 L224.19,192.24 L224.49,192.75 L224.79,193.25 L225.09,193.74 L225.38,194.23 L225.68,194.71 L225.98,195.18 L226.28,195.64 L226.58,196.09 L226.88,196.53 L227.17,196.95 L227.47,197.36 L227.77,197.75 L228.07,198.12 L228.37,198.48 L228.67,198.80 L228.96,199.10 L229.26,199.38 L229.56,199.63 L229.86,199.84 L230.16,200.02 L230.46,200.17 L230.75,200.28 L231.05,200.36 L231.35,200.40 L231.65,200.40 L231.95,200.36 L232.25,200.28 L232.54,200.17 L232.84,200.02 L233.14,199.84 L233.44,199.63 L233.74,199.38 L234.04,199.10 L234.33,198.80 L234.63,198.48 L234.93,198.12 L235.23,197.75 L235.53,197.36 L235.83,196.95 L236.12,196.53 L236.42,196.09 L236.72,195.64 L237.02,195.18 L237.32,194.71 L237.62,194.23 L237.91,193.74 L238.21,193.25 L238.51,192.75 L238.81,192.24 L239.11,191.73 L239.41,191.22 L239.70,190.70 L240.00,190.18 L240.30,189.66 L240.60,189.14 L240.90,188.62 L241.20,188.09 L241.49,187.57 L241.79,187.04 L242.09,186.52 L242.39,185.99 L242.69,185.47 L242.99,184.94 L243.28,184.42 L243.58,183.90 L243.88,183.37 L244.18,182.85 L244.48,182.33 L244.78,181.81 L245.07,181.30 L245.37,180.78 L245.67,180.27 L245.97,179.75 L246.27,179.24 L246.57,178.73 L246.86,178.22 L247.16,177.71 L247.46,177.21 L247.76,176.70 L248.06,176.20 L248.36,175.70 L248.65,175.20 L248.95,174.70 L249.25,174.20 L249.55,173.71 L249.85,173.22 L250.15,172.73 L250.44,172.24 L250.74,171.75 L251.04,171.26 L251.34,170.78 L251.64,170.29 L251.94,169.81 L252.23,169.33 L252.53,168.85 L252.83,168.38 L253.13,167.90 L253.43,167.43 L253.73,166.95 L254.02,166.48 L254.32,166.01 L254.62,165.55 L254.92,165.08 L255.22,164.62 L255.52,164.15 L255.81,163.69 L256.11,163.23 L256.41,162.77 L256.71,162.31 L257.01,161.86 L257.31,161.40 L257.60,160.95 L257.90,160.50 L258.20,160.05 L258.50,159.60 L258.80,159.15 L259.10,158.70 L259.39,158.26 L259.69,157.81 L259.99,157.37 L260.29,156.93 L260.59,156.49 L260.89,156.05 L261.18,155.61 L261.48,155.18 L261.78,154.74 L262.08,154.31 L262.38,153.88 L262.68,153.45 L262.97,153.01 L263.27,152.59 L263.57,152.16 L263.87,151.73 L264.17,151.31 L264.47,150.88 L264.76,150.46 L265.06,150.03 L265.36,149.61 L265.66,149.19 L265.96,148.77 L266.26,148.36 L266.55,147.94 L266.85,147.52 L267.15,147.11 L267.45,146.69 L267.75,146.28 L268.05,145.87 L268.34,145.46 L268.64,145.05 L268.94,144.64 L269.24,144.23 L269.54,143.83 L269.84,143.42 L270.13,143.01 L270.43,142.61 L270.73,142.21 L271.03,141.80 L271.33,141.40 L271.63,141.00 L271.92,140.60 L272.22,140.20 L272.52,139.81 L272.82,139.41 L273.12,139.01 L273.42,138.62 L273.71,138.23 L274.01,137.83 L274.31,137.44 L274.61,137.05 L274.91,136.66 L275.21,136.27 L275.50,135.88 L275.80,135.49 L276.10,135.10 L276.40,134.72 L276.70,134.33 L277.00,133.94 L277.29,133.56 L277.59,133.18 L277.89,132.79 L278.19,132.41 L278.49,132.03 L278.79,131.65 L279.08,131.27 L279.38,130.89 L279.68,130.51 L279.98,130.13 L280.28,129.76 L280.58,129.38 L280.87,129.01 L281.17,128.63 L281.47,128.26 L281.77,127.88 L282.07,127.51 L282.37,127.14 L282.66,126.77 L282.96,126.40 L283.26,126.03 L283.56,125.66 L283.86,125.29 L284.16,124.92 L284.45,124.55 L284.75,124.19 L285.05,123.82 L285.35,123.46 L285.65,123.09 L285.95,122.73 L286.24,122.36 L286.54,122.00 L286.84,121.64 L287.14,121.28 L287.44,120.92 L287.74,120.56 L288.03,120.20 L288.33,119.84 L288.63,119.48 L288.93,119.12 L289.23,118.77 L289.53,118.41 L289.82,118.05 L290.12,117.70 L290.42,117.34 L290.72,116.99 L291.02,116.63 L291.32,116.28 L291.61,115.93 L291.91,115.58 L292.21,115.22 L292.51,114.87 L292.81,114.52 L293.11,114.17 L293.40,113.82 L293.70,113.47 L294.00,113.13 L294.30,112.78 L294.60,112.43 L294.90,112.08 L295.19,111.74 L295.49,111.39 L295.79,111.05 L296.09,110.70 L296.39,110.36 L296.69,110.02 L296.98,109.67 L297.28,109.33 L297.58,108.99 L297.88,108.65 L298.18,108.31 L298.48,107.96 L298.77,107.62 L299.07,107.28 L299.37,106.95 L299.67,106.61 L299.97,106.27 L300.27,105.93 L300.56,105.59 L300.86,105.26 L301.16,104.92 L301.46,104.59 L301.76,104.25 L302.06,103.91 L302.35,103.58 L302.65,103.25 L302.95,102.91 L303.25,102.58 L303.55,102.25 L303.85,101.91 L304.14,101.58 L304.44,101.25 L304.74,100.92 L305.04,100.59 L305.34,100.26 L305.64,99.93 L305.93,99.60 L306.23,99.27 L306.53,98.94 L306.83,98.62 L307.13,98.29 L307.43,97.96 L307.72,97.64 L308.02,97.31 L308.32,96.98 L308.62,96.66 L308.92,96.33 L309.22,96.01 L309.51,95.69 L309.81,95.36 L310.11,95.04 L310.41,94.72 L310.71,94.39 L311.01,94.07 L311.30,93.75 L311.60,93.43 L311.90,93.11 L312.20,92.79 L312.50,92.47 L312.80,92.15 L313.09,91.83 L313.39,91.51 L313.69,91.19 L313.99,90.87 L314.29,90.55 L314.59,90.24 L314.88,89.92 L315.18,89.60 L315.48,89.28 L315.78,88.97 L316.08,88.65 L316.38,88.34 L316.67,88.02 L316.97,87.71 L317.27,87.39 L317.57,87.08 L317.87,86.77 L318.17,86.45 L318.46,86.14 L318.76,85.83 L319.06,85.52 L319.36,85.20 L319.66,84.89 L319.96,84.58 L320.25,84.27 L320.55,83.96 L320.85,83.65 L321.15,83.34 L321.45,83.03 L321.75,82.72 L322.04,82.41 L322.34,82.11 L322.64,81.80 L322.94,81.49 L323.24,81.18 L323.54,80.87 L323.83,80.57 L324.13,80.26 L324.43,79.96 L324.73,79.65 L325.03,79.34 L325.33,79.04 L325.62,78.73 L325.92,78.43 L326.22,78.13 L326.52,77.82 L326.82,77.52 L327.12,77.22 L327.41,76.91 L327.71,76.61 L328.01,76.31 L328.31,76.01 L328.61,75.70 L328.91,75.40 L329.20,75.10 L329.50,74.80 L329.80,74.50 L330.10,74.20 L330.40,73.90 L330.70,73.60 L330.99,73.30 L331.29,73.00 L331.59,72.70 L331.89,72.40 L332.19,72.11 L332.49,71.81 L332.78,71.51 L333.08,71.21 L333.38,70.92 L333.68,70.62 L333.98,70.32 L334.28,70.03 L334.57,69.73 L334.87,69.44 L335.17,69.14 L335.47,68.85 L335.77,68.55 L336.07,68.26 L336.36,67.96 L336.66,67.67 L336.96,67.38 L337.26,67.08 L337.56,66.79 L337.86,66.50 L338.15,66.20 L338.45,65.91 L338.75,65.62 L339.05,65.33 L339.35,65.04 L339.65,64.74 L339.94,64.45 L340.24,64.16 L340.54,63.87 L340.84,63.58 L341.14,63.29 L341.44,63.00 L341.73,62.71 L342.03,62.42 L342.33,62.14 L342.63,61.85 L342.93,61.56 L343.23,61.27 L343.52,60.98 L343.82,60.70 L344.12,60.41 L344.42,60.12 L344.72,59.83 L345.02,59.55 L345.31,59.26 L345.61,58.98 L345.91,58.69 L346.21,58.40 L346.51,58.12 L346.81,57.83 L347.10,57.55 L347.40,57.26 L347.70,56.98 L348.00,56.70 L348.30,56.41 L348.60,56.13 L348.89,55.84 L349.19,55.56 L349.49,55.28 L349.79,55.00 L350.09,54.71 L350.39,54.43 L350.68,54.15 L350.98,53.87 L351.28,53.59 L351.58,53.30 L351.88,53.02 L352.18,52.74 L352.47,52.46 L352.77,52.18 L353.07,51.90 L353.37,51.62 L353.67,51.34 L353.97,51.06 L354.26,50.78 L354.56,50.50 L354.86,50.22 L355.16,49.95 L355.46,49.67 L355.76,49.39 L356.05,49.11 L356.35,48.83 L356.65,48.56 L356.95,48.28 L357.25,48.00 L357.55,47.73 L357.84,47.45 L358.14,47.17 L358.44,46.90 L358.74,46.62 L359.04,46.34 L359.34,46.07 L359.63,45.79 L359.93,45.52 L360.23,45.24 L360.53,44.97 L360.83,44.69 L361.13,44.42 L361.42,44.15 L361.72,43.87 L362.02,43.60 L362.32,43.32 L362.62,43.05 L362.92,42.78 L363.21,42.51 L363.51,42.23 L363.81,41.96 L364.11,41.69 L364.41,41.42 L364.71,41.14 L365.00,40.87 L365.30,40.60 L365.60,40.33 L365.90,40.06 L366.20,39.79 L366.50,39.52 L366.79,39.25 L367.09,38.98 L367.39,38.71 L367.69,38.44 L367.99,38.17 L368.29,37.90 L368.58,37.63 L368.88,37.36 L369.18,37.09 L369.48,36.82 L369.78,36.55 L370.08,36.29 L370.37,36.02 L370.67,35.75 L370.97,35.48 L371.27,35.21 L371.57,34.95 L371.87,34.68 L372.16,34.41 L372.46,34.15 L372.76,33.88 L373.06,33.61 L373.36,33.35 L373.66,33.08 L373.95,32.82 L374.25,32.55 L374.55,32.28 L374.85,32.02 L375.15,31.75 L375.45,31.49 L375.74,31.22 L376.04,30.96 L376.34,30.69 L376.64,30.43 L376.94,30.17 L377.24,29.90 L377.53,29.64 L377.83,29.38 L378.13,29.11 L378.43,28.85 L378.73,28.59 L379.03,28.32 L379.32,28.06 L379.62,27.80 L379.92,27.54 L380.22,27.27 L380.52,27.01 L380.82,26.75 L381.11,26.49 L381.41,26.23 L381.71,25.97 L382.01,25.71 L382.31,25.44 L382.61,25.18 L382.90,24.92 L383.20,24.66 L383.50,24.40 L383.80,24.14 L384.10,23.88 L384.40,23.62 L384.69,23.36 L384.99,23.10 L385.29,22.85 L385.59,22.59 L385.89,22.33 L386.19,22.07 L386.48,21.81 L386.78,21.55 L387.08,21.29 L387.38,21.04 L387.68,20.78 L387.98,20.52 L388.27,20.26 L388.57,20.00 L388.87,19.75 L389.17,19.49 L389.47,19.23 L389.77,18.98 L390.06,18.72 L390.36,18.46 L390.66,18.21 L390.96,17.95 L391.26,17.70 L391.56,17.44 L391.85,17.18 L392.15,16.93 L392.45,16.67 L392.75,16.42 L393.05,16.16 L393.35,15.91 L393.64,15.65 L393.94,15.40 L394.24,15.15 L394.54,14.89 L394.84,14.64 L395.14,14.38 L395.43,14.13 L395.73,13.88 L396.03,13.62 L396.33,13.37 L396.63,13.12 L396.93,12.86 L397.22,12.61 L397.52,12.36 L397.82,12.10 L398.12,11.85 L398.42,11.60 L398.72,11.35 L399.01,11.10 L399.31,10.84 L399.61,10.59 L399.91,10.34 L400.21,10.09 L400.51,9.84 L400.80,9.59 L401.10,9.34 L401.40,9.09 L401.70,8.84 L402.00,8.58 L402.30,8.33 L402.59,8.08 L402.89,7.83 L403.19,7.58 L403.49,7.33 L403.79,7.09 L404.09,6.84 L404.38,6.59 L404.68,6.34 L404.98,6.09 L405.28,5.84 L405.58,5.59 L405.88,5.34 L406.17,5.09 L406.47,4.85 L406.77,4.60 L407.07,4.35 L407.37,4.10 L407.67,3.85 L407.96,3.61 L408.26,3.36 L408.56,3.11 L408.86,2.86 L409.16,2.62 L409.46,2.37 L409.75,2.12 L410.05,1.88 L410.35,1.63" stroke="#ff0000" stroke-width="2.6" stroke-dasharray="5.4,3.85,2.1,3.85" stroke-dashoffset="7.01"/>
</g>
<g stroke="#666" stroke-width="1" fill="none"><line x1="67.25" y1="228.0" x2="67.25" y2="225.3"/><line x1="67.25" y1="9.6" x2="67.25" y2="12.3"/><line x1="85.50" y1="228.0" x2="85.50" y2="225.3"/><line x1="85.50" y1="9.6" x2="85.50" y2="12.3"/><line x1="103.75" y1="228.0" x2="103.75" y2="225.3"/><line x1="103.75" y1="9.6" x2="103.75" y2="12.3"/><line x1="122.00" y1="228.0" x2="122.00" y2="225.3"/><line x1="122.00" y1="9.6" x2="122.00" y2="12.3"/><line x1="140.25" y1="228.0" x2="140.25" y2="223.5"/><line x1="140.25" y1="9.6" x2="140.25" y2="14.1"/><line x1="158.50" y1="228.0" x2="158.50" y2="225.3"/><line x1="158.50" y1="9.6" x2="158.50" y2="12.3"/><line x1="176.75" y1="228.0" x2="176.75" y2="225.3"/><line x1="176.75" y1="9.6" x2="176.75" y2="12.3"/><line x1="195.00" y1="228.0" x2="195.00" y2="225.3"/><line x1="195.00" y1="9.6" x2="195.00" y2="12.3"/><line x1="213.25" y1="228.0" x2="213.25" y2="225.3"/><line x1="213.25" y1="9.6" x2="213.25" y2="12.3"/><line x1="231.50" y1="228.0" x2="231.50" y2="223.5"/><line x1="231.50" y1="9.6" x2="231.50" y2="14.1"/><line x1="249.75" y1="228.0" x2="249.75" y2="225.3"/><line x1="249.75" y1="9.6" x2="249.75" y2="12.3"/><line x1="268.00" y1="228.0" x2="268.00" y2="225.3"/><line x1="268.00" y1="9.6" x2="268.00" y2="12.3"/><line x1="286.25" y1="228.0" x2="286.25" y2="225.3"/><line x1="286.25" y1="9.6" x2="286.25" y2="12.3"/><line x1="304.50" y1="228.0" x2="304.50" y2="225.3"/><line x1="304.50" y1="9.6" x2="304.50" y2="12.3"/><line x1="322.75" y1="228.0" x2="322.75" y2="223.5"/><line x1="322.75" y1="9.6" x2="322.75" y2="14.1"/><line x1="341.00" y1="228.0" x2="341.00" y2="225.3"/><line x1="341.00" y1="9.6" x2="341.00" y2="12.3"/><line x1="359.25" y1="228.0" x2="359.25" y2="225.3"/><line x1="359.25" y1="9.6" x2="359.25" y2="12.3"/><line x1="377.50" y1="228.0" x2="377.50" y2="225.3"/><line x1="377.50" y1="9.6" x2="377.50" y2="12.3"/><line x1="395.75" y1="228.0" x2="395.75" y2="225.3"/><line x1="395.75" y1="9.6" x2="395.75" y2="12.3"/><line x1="49.0" y1="223.50" x2="53.5" y2="223.50"/><line x1="414.0" y1="223.50" x2="409.5" y2="223.50"/><line x1="49.0" y1="214.94" x2="51.7" y2="214.94"/><line x1="414.0" y1="214.94" x2="411.3" y2="214.94"/><line x1="49.0" y1="206.38" x2="51.7" y2="206.38"/><line x1="414.0" y1="206.38" x2="411.3" y2="206.38"/><line x1="49.0" y1="197.83" x2="51.7" y2="197.83"/><line x1="414.0" y1="197.83" x2="411.3" y2="197.83"/><line x1="49.0" y1="189.27" x2="51.7" y2="189.27"/><line x1="414.0" y1="189.27" x2="411.3" y2="189.27"/><line x1="49.0" y1="180.71" x2="53.5" y2="180.71"/><line x1="414.0" y1="180.71" x2="409.5" y2="180.71"/><line x1="49.0" y1="172.15" x2="51.7" y2="172.15"/><line x1="414.0" y1="172.15" x2="411.3" y2="172.15"/><line x1="49.0" y1="163.59" x2="51.7" y2="163.59"/><line x1="414.0" y1="163.59" x2="411.3" y2="163.59"/><line x1="49.0" y1="155.04" x2="51.7" y2="155.04"/><line x1="414.0" y1="155.04" x2="411.3" y2="155.04"/><line x1="49.0" y1="146.48" x2="51.7" y2="146.48"/><line x1="414.0" y1="146.48" x2="411.3" y2="146.48"/><line x1="49.0" y1="137.92" x2="53.5" y2="137.92"/><line x1="414.0" y1="137.92" x2="409.5" y2="137.92"/><line x1="49.0" y1="129.36" x2="51.7" y2="129.36"/><line x1="414.0" y1="129.36" x2="411.3" y2="129.36"/><line x1="49.0" y1="120.80" x2="51.7" y2="120.80"/><line x1="414.0" y1="120.80" x2="411.3" y2="120.80"/><line x1="49.0" y1="112.25" x2="51.7" y2="112.25"/><line x1="414.0" y1="112.25" x2="411.3" y2="112.25"/><line x1="49.0" y1="103.69" x2="51.7" y2="103.69"/><line x1="414.0" y1="103.69" x2="411.3" y2="103.69"/><line x1="49.0" y1="95.13" x2="53.5" y2="95.13"/><line x1="414.0" y1="95.13" x2="409.5" y2="95.13"/><line x1="49.0" y1="86.57" x2="51.7" y2="86.57"/><line x1="414.0" y1="86.57" x2="411.3" y2="86.57"/><line x1="49.0" y1="78.01" x2="51.7" y2="78.01"/><line x1="414.0" y1="78.01" x2="411.3" y2="78.01"/><line x1="49.0" y1="69.46" x2="51.7" y2="69.46"/><line x1="414.0" y1="69.46" x2="411.3" y2="69.46"/><line x1="49.0" y1="60.90" x2="51.7" y2="60.90"/><line x1="414.0" y1="60.90" x2="411.3" y2="60.90"/><line x1="49.0" y1="52.34" x2="53.5" y2="52.34"/><line x1="414.0" y1="52.34" x2="409.5" y2="52.34"/><line x1="49.0" y1="43.78" x2="51.7" y2="43.78"/><line x1="414.0" y1="43.78" x2="411.3" y2="43.78"/><line x1="49.0" y1="35.22" x2="51.7" y2="35.22"/><line x1="414.0" y1="35.22" x2="411.3" y2="35.22"/><line x1="49.0" y1="26.67" x2="51.7" y2="26.67"/><line x1="414.0" y1="26.67" x2="411.3" y2="26.67"/><line x1="49.0" y1="18.11" x2="51.7" y2="18.11"/><line x1="414.0" y1="18.11" x2="411.3" y2="18.11"/></g>
<g opacity="0.999" font-family="Liberation Serif, serif" font-size="17.4" fill="#525252" stroke="#525252" stroke-width="0.1"><text transform="translate(49.00,246.2) scale(0.94,1)" text-anchor="middle"><tspan dy="0.9">−</tspan><tspan dy="-0.9" dx="1.5">20</tspan></text><text transform="translate(140.25,246.2) scale(0.94,1)" text-anchor="middle"><tspan dy="0.9">−</tspan><tspan dy="-0.9" dx="1.5">10</tspan></text><text transform="translate(231.50,246.2) scale(0.94,1)" text-anchor="middle">0</text><text transform="translate(322.75,246.2) scale(0.94,1)" text-anchor="middle">10</text><text transform="translate(414.00,246.2) scale(0.94,1)" text-anchor="middle">20</text><text transform="translate(44.9,229.05) scale(0.94,1)" text-anchor="end">0</text><text transform="translate(44.9,186.26) scale(0.94,1)" text-anchor="end">5</text><text transform="translate(44.9,143.47) scale(0.94,1)" text-anchor="end">10</text><text transform="translate(44.9,100.68) scale(0.94,1)" text-anchor="end">15</text><text transform="translate(45.25,57.89) scale(0.94,1)" text-anchor="end">20</text><text transform="translate(45.25,15.10) scale(0.94,1)" text-anchor="end">25</text></g>
<g opacity="0.999" font-family="Liberation Serif, serif" font-style="italic" font-size="16.5" fill="#000">
<text transform="translate(203.9,271.5) scale(1.2,1)">s</text><text transform="translate(212.3,271.5) scale(1.15,1)" font-style="normal">(</text><text transform="translate(218.2,271.5) scale(1.1,1)">x</text><text transform="translate(226.0,271.5) scale(1.15,1)" font-style="normal">)</text><text transform="translate(235.6,273.0) scale(1.37,1)" font-style="normal">−</text><text transform="translate(252.7,271.5) scale(1.2,1)">t</text>
<text transform="translate(15.6,118) rotate(-90) scale(1.1,1)" text-anchor="middle" font-size="18.3">R</text>
</g>
</svg></body></html>
